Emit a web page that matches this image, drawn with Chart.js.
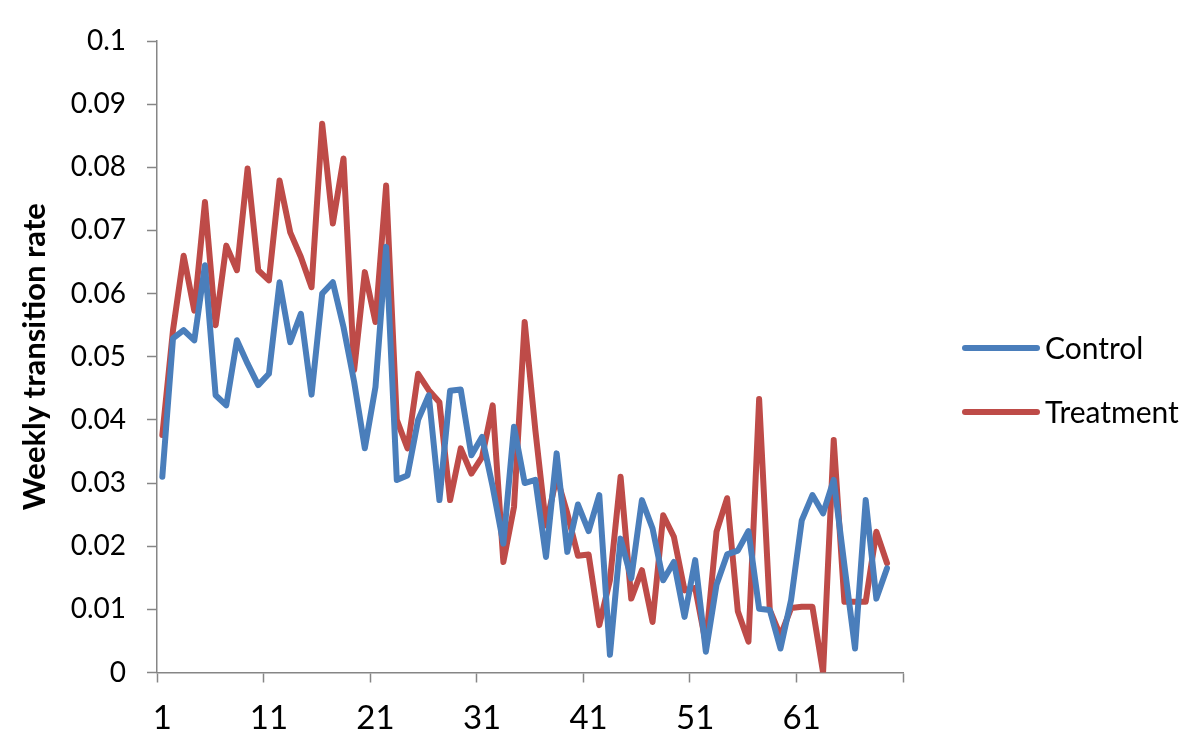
<!DOCTYPE html>
<html>
<head>
<meta charset="utf-8">
<script src="https://cdn.jsdelivr.net/npm/chart.js@4/dist/chart.umd.min.js"></script>
<style>
  html, body { margin: 0; padding: 0; background: #fff; }
  canvas { display: block; }
</style>
</head>
<body>
<canvas id="chart" width="1200" height="755"></canvas>
<script>
// weeks 1..70 (last slot is empty, as in the original axis)
const weeks = Array.from({ length: 70 }, (_, i) => String(i + 1));

const control = [
  0.0310, 0.0529, 0.0542, 0.0526, 0.0645, 0.0439, 0.0423, 0.0526, 0.0489, 0.0455,
  0.0473, 0.0618, 0.0523, 0.0568, 0.0440, 0.0600, 0.0618, 0.0547, 0.0460, 0.0355,
  0.0452, 0.0674, 0.0305, 0.0312, 0.0400, 0.0439, 0.0273, 0.0446, 0.0448, 0.0344,
  0.0373, 0.0294, 0.0204, 0.0389, 0.0300, 0.0305, 0.0183, 0.0347, 0.0191, 0.0266,
  0.0224, 0.0281, 0.0028, 0.0212, 0.0149, 0.0273, 0.0228, 0.0146, 0.0175, 0.0088,
  0.0178, 0.0033, 0.0139, 0.0187, 0.0193, 0.0224, 0.0101, 0.0099, 0.0038, 0.0115,
  0.0241, 0.0281, 0.0252, 0.0305, 0.0170, 0.0038, 0.0273, 0.0117, 0.0165
];

const treatment = [
  0.0376, 0.0542, 0.0660, 0.0573, 0.0745, 0.0550, 0.0676, 0.0637, 0.0798, 0.0637,
  0.0621, 0.0779, 0.0697, 0.0658, 0.0610, 0.0869, 0.0711, 0.0814, 0.0479, 0.0634,
  0.0555, 0.0771, 0.0400, 0.0355, 0.0473, 0.0447, 0.0428, 0.0273, 0.0355, 0.0315,
  0.0341, 0.0423, 0.0175, 0.0262, 0.0555, 0.0384, 0.0233, 0.0310, 0.0252, 0.0185,
  0.0187, 0.0075, 0.0146, 0.0310, 0.0117, 0.0162, 0.0080, 0.0249, 0.0215, 0.0130,
  0.0134, 0.0046, 0.0223, 0.0276, 0.0097, 0.0049, 0.0433, 0.0099, 0.0058, 0.0102,
  0.0104, 0.0104, 0.0000, 0.0368, 0.0112, 0.0112, 0.0112, 0.0223, 0.0173
];

const seriesNames = ['Control', 'Treatment'];
const seriesColors = ['#4A7EBB', '#BE4B48'];

const AXIS_GRAY = '#868686';
const FONT = 'Lato, "Liberation Sans", sans-serif';

// legend drawn at the right like the Excel original
const sideLegend = {
  id: 'sideLegend',
  afterDraw(chart) {
    const ctx = chart.ctx;
    const x0 = 965, lineLen = 72, gap = 8;
    const rows = [348, 412];
    ctx.save();
    chart.data.datasets.forEach((ds, i) => {
      const y = rows[i];
      ctx.strokeStyle = ds.borderColor;
      ctx.lineWidth = ds.borderWidth;
      ctx.lineCap = 'round';
      ctx.beginPath();
      ctx.moveTo(x0, y);
      ctx.lineTo(x0 + lineLen, y);
      ctx.stroke();
      ctx.fillStyle = '#000';
      ctx.font = '30px ' + FONT;
      ctx.textBaseline = 'middle';
      ctx.textAlign = 'left';
      ctx.fillText(ds.label, x0 + lineLen + gap, y + 1);
    });
    ctx.restore();
  }
};

new Chart(document.getElementById('chart'), {
  type: 'line',
  data: {
    labels: weeks,
    datasets: [
      {
        label: seriesNames[0],
        data: control,
        borderColor: seriesColors[0],
        backgroundColor: seriesColors[0],
        borderWidth: 6,
        borderJoinStyle: 'round',
        borderCapStyle: 'round',
        pointRadius: 0,
        tension: 0
      },
      {
        label: seriesNames[1],
        data: treatment,
        borderColor: seriesColors[1],
        backgroundColor: seriesColors[1],
        borderWidth: 6,
        borderJoinStyle: 'round',
        borderCapStyle: 'round',
        pointRadius: 0,
        tension: 0
      }
    ]
  },
  options: {
    responsive: false,
    animation: false,
    events: [],
    layout: { padding: { top: 41, right: 297, bottom: 0, left: 0 } },
    plugins: {
      legend: { display: false },
      tooltip: { enabled: false }
    },
    scales: {
      x: {
        type: 'category',
        offset: true,
        afterFit(scale) { scale.height = 82.5; },
        grid: {
          offset: true,
          drawOnChartArea: false,
          drawTicks: true,
          tickLength: 10,
          tickWidth: 1.5,
          tickColor: (c) => (c.type !== 'tick' || c.index % 10 === 0) ? AXIS_GRAY : 'rgba(0,0,0,0)'
        },
        border: { color: AXIS_GRAY, width: 1.5 },
        ticks: {
          autoSkip: false,
          maxRotation: 0,
          padding: 16,
          color: '#000',
          font: { family: FONT, size: 33 },
          callback(value, index) { return index % 10 === 0 ? this.getLabelForValue(value) : ''; }
        }
      },
      y: {
        min: 0,
        max: 0.1,
        afterFit(scale) { scale.width = 157; },
        grid: {
          drawOnChartArea: false,
          drawTicks: true,
          tickLength: 10,
          tickWidth: 1.5,
          tickColor: AXIS_GRAY
        },
        border: { color: AXIS_GRAY, width: 1.5 },
        ticks: {
          stepSize: 0.01,
          padding: 21,
          color: '#000',
          font: { family: FONT, size: 28 },
          callback: (v) => String(Number(v.toFixed(2)))
        },
        title: {
          display: true,
          text: 'Weekly transition rate',
          color: '#000',
          font: { family: FONT, size: 31, weight: 'bold', lineHeight: 1.2 },
          padding: { top: 16, bottom: 0 }
        }
      }
    }
  },
  plugins: [sideLegend]
});
</script>
</body>
</html>
